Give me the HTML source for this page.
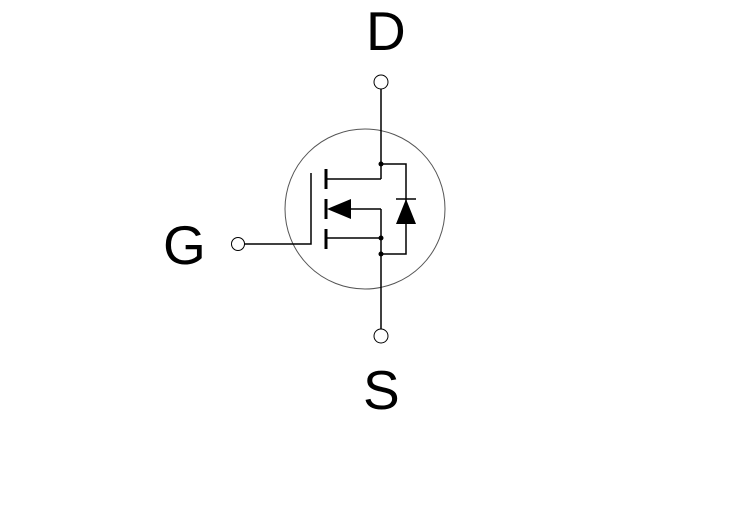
<!DOCTYPE html>
<html><head><meta charset="utf-8"><style>
html,body{margin:0;padding:0;background:#fff;}
svg{display:block}
text{font-family:"Liberation Sans",sans-serif;fill:#000}
</style></head><body>
<svg width="730" height="517" viewBox="0 0 730 517" xmlns="http://www.w3.org/2000/svg">
<rect width="730" height="517" fill="#fff"/>
<circle cx="365" cy="209" r="80" fill="none" stroke="#555" stroke-width="1"/>
<g stroke="#000" stroke-width="1.5" fill="none">
<line x1="381" y1="89" x2="381" y2="179"/>
<line x1="381" y1="209" x2="381" y2="329"/>
<line x1="327" y1="179" x2="381" y2="179"/>
<line x1="345" y1="209" x2="381" y2="209"/>
<line x1="327" y1="238" x2="381" y2="238"/>
<polyline points="381,164 406,164 406,254 381,254"/>
<polyline points="244,244 311,244 311,173"/>
<line x1="396" y1="199" x2="416" y2="199"/>
</g>
<g stroke="#000" stroke-width="3">
<line x1="326" y1="169" x2="326" y2="189"/>
<line x1="326" y1="199" x2="326" y2="219"/>
<line x1="326" y1="229" x2="326" y2="249"/>
</g>
<polygon points="327,209 351,199 351,219" fill="#000"/>
<polygon points="406,199 396,224 416,224" fill="#000"/>
<g fill="#000">
<circle cx="381" cy="164" r="2.5"/>
<circle cx="381" cy="238" r="2.5"/>
<circle cx="381" cy="254" r="2.5"/>
</g>
<g fill="#fff" stroke="#000" stroke-width="1">
<circle cx="381" cy="82" r="7"/>
<circle cx="381" cy="336" r="7"/>
<circle cx="238" cy="244" r="6.5"/>
</g>
<text x="366" y="50" font-size="55">D</text>
<text x="163" y="264" font-size="55">G</text>
<text x="363" y="409" font-size="55">S</text>
</svg>
</body></html>
